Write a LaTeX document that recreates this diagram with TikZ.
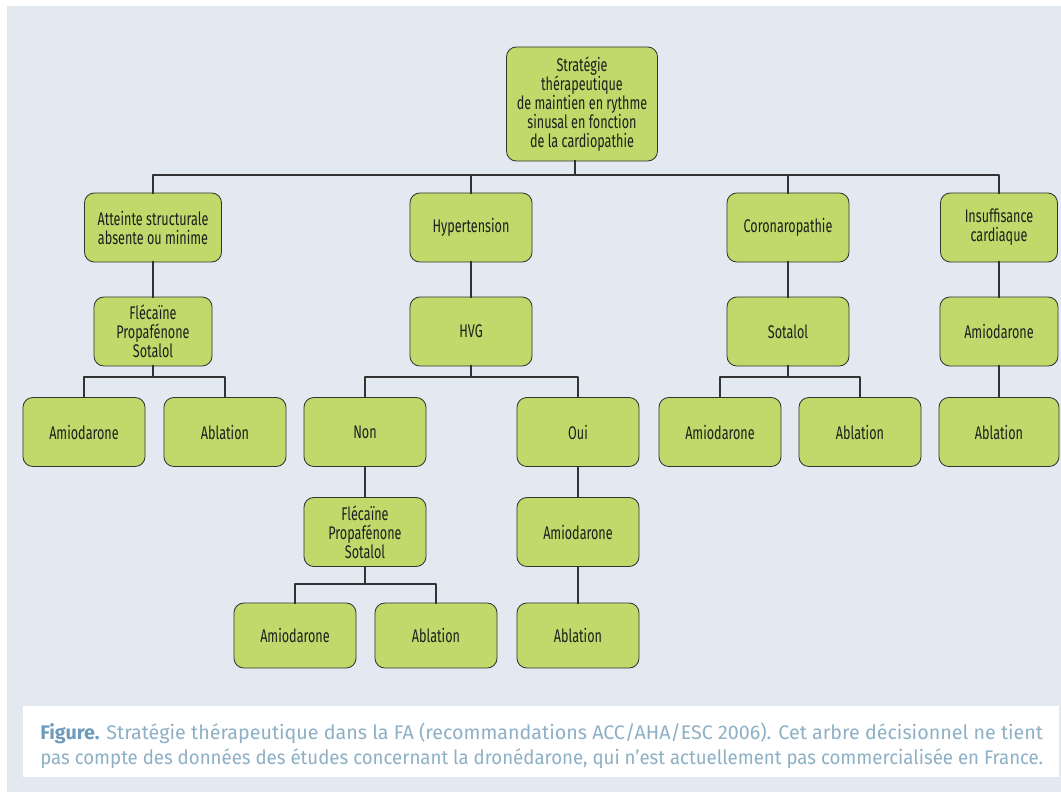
\documentclass[tikz,border=0pt]{standalone}
\usepackage{fontspec}
\setmainfont{Fira Sans}
\newfontfamily\boxfont[FakeStretch=0.69]{Fira Sans}
\newfontfamily\capfont{Fira Sans}
\newfontfamily\capfontb[FakeStretch=0.947]{Fira Sans}
\definecolor{panel}{HTML}{E2E9F0}
\definecolor{boxgreen}{HTML}{BFD96A}
\definecolor{boxline}{HTML}{333333}
\definecolor{boxtext}{HTML}{1E1E1E}
\definecolor{captext}{HTML}{8DB0C6}
\definecolor{capbold}{HTML}{6F9BBB}
\begin{document}
\begin{tikzpicture}[x=0.025cm, y=-0.025cm, line cap=round, line join=round,
	box/.style={draw=boxline, line width=0.6pt, fill=boxgreen, rounded corners=7pt,
		minimum width=3.05cm, minimum height=1.725cm, inner sep=0pt, align=center,
		text=boxtext, font=\boxfont\fontsize{13}{13.5}\selectfont},
	link/.style={draw=boxline, line width=1.4pt, line cap=rect}]
	\useasboundingbox (0,0) rectangle (1061,792);
	\fill[panel] (7,6) rectangle (1061,792);
	% arbre
	\node[box, minimum width=3.775cm, minimum height=2.85cm] (strat) at (582,104) {Stratégie\\thérapeutique\\de maintien en rythme\\sinusal en fonction\\de la cardiopathie};
	\node[box, minimum width=3.425cm] (struct) at (153,227.5) {Atteinte structurale\\absente ou minime};
	\node[box] (hta) at (471,227.5) {Hypertension};
	\node[box] (coro) at (788,227.5) {Coronaropathie};
	\node[box, minimum width=2.925cm] (ic) at (999,227.5) {Insuffisance\\cardiaque};
	\node[box, minimum width=2.95cm] (flec1) at (153,331.5) {Flécaïne\\Propafénone\\Sotalol};
	\node[box] (hvg) at (471,331.5) {HVG};
	\node[box] (sota) at (788,331.5) {Sotalol};
	\node[box, minimum width=2.95cm] (amioic) at (999,331.5) {Amiodarone};
	\node[box] (amio1) at (84,432) {Amiodarone};
	\node[box] (abl1) at (225,432) {Ablation};
	\node[box] (non) at (365,432) {Non};
	\node[box] (oui) at (578,432) {Oui};
	\node[box] (amio3) at (720,432) {Amiodarone};
	\node[box] (abl3) at (860,432) {Ablation};
	\node[box, minimum width=3cm] (abl4) at (999,432) {Ablation};
	\node[box] (flec2) at (365,532) {Flécaïne\\Propafénone\\Sotalol};
	\node[box] (amiooui) at (578,532) {Amiodarone};
	\node[box, minimum height=1.625cm] (amio5) at (295,635.5) {Amiodarone};
	\node[box, minimum height=1.625cm] (abl5) at (436,635.5) {Ablation};
	\node[box, minimum height=1.625cm] (abl6) at (578,635.5) {Ablation};
	% liaisons
	\coordinate (j1) at (575,175);
	\coordinate (j2) at (153,377);
	\coordinate (j3) at (471,377);
	\coordinate (j4) at (788,377);
	\coordinate (j5) at (365,584);
	\draw[link] (strat.south -| j1) -- (j1);
	\foreach \n in {struct,hta,coro,ic} \draw[link] (\n.north) |- (j1);
	\draw[link] (flec1.south) -- (j2);
	\foreach \n in {amio1,abl1} \draw[link] (\n.north) |- (j2);
	\draw[link] (hvg.south) -- (j3);
	\foreach \n in {non,oui} \draw[link] (\n.north) |- (j3);
	\draw[link] (sota.south) -- (j4);
	\foreach \n in {amio3,abl3} \draw[link] (\n.north) |- (j4);
	\draw[link] (flec2.south) -- (j5);
	\foreach \n in {amio5,abl5} \draw[link] (\n.north) |- (j5);
	\draw[link] (struct) -- (flec1);
	\draw[link] (hta) -- (hvg);
	\draw[link] (coro) -- (sota);
	\draw[link] (ic) -- (amioic) -- (abl4);
	\draw[link] (non) -- (flec2);
	\draw[link] (oui) -- (amiooui) -- (abl6);
	% legende
	\fill[white] (23,706) rectangle (1059,777);
	\node[anchor=west, align=left, inner sep=0pt, text=captext,
		font=\capfont\fontsize{14}{18}\selectfont] (legende) at (40,745.5)
		{{\bfseries\color{capbold}Figure.} Stratégie thérapeutique dans la FA (recommandations ACC/AHA/ESC 2006). Cet arbre décisionnel ne tient\\
		{\capfontb pas compte des données des études concernant la dronédarone, qui n’est actuellement pas commercialisée en France.}};
\end{tikzpicture}
\end{document}
